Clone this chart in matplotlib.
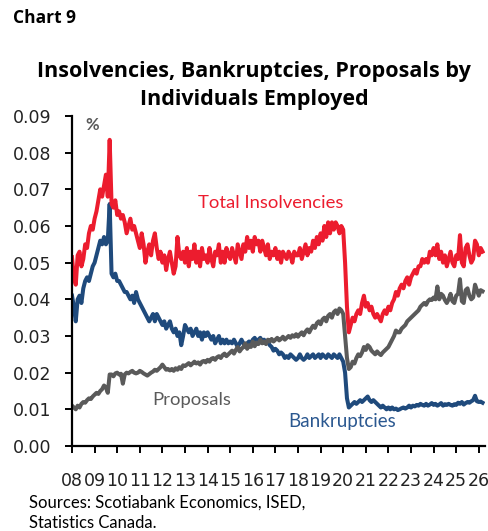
import numpy as np
import matplotlib
matplotlib.use("Agg")
import matplotlib.pyplot as plt

# Monthly ratios to individuals employed, starting January 2008
total_insolvencies = [
    .0515, .046, .044, .052, .053, .049, .051, .055, .054, .058, .060, .059,
    .062, .064, .067, .070, .068, .071, .074, .068, .0835, .066, .065, .067,
    .063, .064, .062, .063, .061, .058, .060, .062, .059, .060, .058, .056,
    .054, .058, .055, .050, .053, .055, .052, .056, .058, .054, .051, .053,
    .050, .052, .048, .051, .053, .050, .047, .049, .057, .052, .051, .053,
    .050, .054, .049, .053, .051, .055, .050, .053, .049, .054, .051, .052,
    .050, .054, .051, .049, .053, .052, .055, .050, .053, .050, .054, .052,
    .051, .054, .052, .050, .055, .053, .051, .055, .053, .057, .054, .056,
    .053, .057, .055, .056, .053, .056, .054, .052, .055, .051, .053, .052,
    .054, .051, .053, .050, .053, .052, .051, .053, .052, .050, .053, .052,
    .052, .054, .051, .053, .055, .052, .054, .053, .056, .054, .057, .055,
    .058, .056, .060, .057, .061, .058, .061, .059, .061, .060, .058, .060,
    .059, .050, .038, .031, .033, .035, .034, .036, .037, .036, .039, .041,
    .038, .039, .037, .038, .036, .035, .036, .035, .034, .036, .037, .036,
    .038, .037, .039, .040, .042, .041, .043, .044, .043, .045, .046, .044,
    .046, .047, .048, .047, .049, .049, .051, .050, .051, .050, .053, .052,
    .054, .052, .055, .051, .053, .050, .052, .049, .051, .053, .050, .049,
    .052, .051, .0575, .050, .049, .054, .055, .052, .050, .051, .056, .055,
    .052, .054, .053,
]

bankruptcies = [
    .041, .038, .034, .040, .041, .039, .043, .045, .046, .045, .047, .049,
    .050, .052, .054, .056, .055, .057, .055, .056, .066, .047, .046, .047,
    .045, .045, .044, .043, .042, .042, .041, .040, .041, .039, .042, .040,
    .039, .038, .037, .036, .035, .034, .035, .036, .034, .036, .035, .034,
    .033, .034, .032, .033, .034, .032, .031, .032, .030, .031, .0275, .030,
    .033, .032, .031, .032, .030, .031, .032, .030, .031, .029, .031, .030,
    .031, .030, .029, .030, .028, .029, .030, .028, .029, .028, .029, .028,
    .0285, .028, .029, .028, .027, .028, .029, .028, .027, .028, .0285, .028,
    .029, .0295, .0285, .029, .0295, .0285, .029, .028, .0285, .0275, .027, .026,
    .0265, .026, .025, .0255, .025, .024, .0245, .024, .025, .0245, .024, .0235,
    .024, .025, .024, .0235, .024, .025, .024, .0245, .025, .024, .0245, .025,
    .024, .025, .0245, .024, .025, .0245, .024, .025, .0245, .024, .025, .024,
    .023, .020, .013, .0105, .011, .0115, .012, .0115, .012, .0125, .012, .0125,
    .013, .0135, .0125, .012, .0125, .012, .0115, .011, .0105, .011, .0105, .010,
    .0105, .010, .0105, .010, .0102, .0098, .010, .0103, .0105, .0102, .0105, .011,
    .0105, .011, .0108, .0112, .011, .0115, .0112, .011, .0115, .011, .0113, .0117,
    .0112, .0115, .011, .0113, .0117, .011, .0114, .0112, .0115, .0112, .011, .0114,
    .0112, .0118, .0115, .012, .0113, .0117, .012, .0118, .0122, .0125, .0137, .0122,
    .012, .0121, .0118,
]

proposals = [
    .011, .0105, .010, .011, .0105, .0115, .012, .0118, .0125, .013, .0128, .0135,
    .014, .0145, .0142, .015, .0155, .0165, .016, .0145, .0195, .0195, .019, .0198,
    .020, .0195, .0197, .017, .0195, .020, .0198, .0202, .0205, .020, .0198, .020,
    .0205, .0202, .0198, .0195, .0192, .0196, .020, .0203, .0208, .0205, .021, .0215,
    .0222, .0215, .0208, .021, .0206, .021, .0205, .0212, .0208, .0215, .021, .022,
    .0218, .0222, .0226, .022, .0225, .023, .0225, .0228, .0222, .023, .0232, .0228,
    .0235, .023, .0238, .024, .0235, .0242, .0245, .024, .0248, .0252, .0245, .025,
    .0255, .026, .0252, .0262, .027, .0258, .0265, .027, .028, .0265, .0275, .027,
    .0285, .0272, .0282, .0278, .029, .028, .0285, .0278, .029, .0285, .0292, .0285,
    .029, .0295, .0288, .0292, .0298, .029, .0295, .030, .0295, .0302, .0298, .0305,
    .0298, .0305, .031, .0302, .0312, .0318, .031, .032, .0328, .0322, .0335, .034,
    .0332, .0345, .035, .034, .0355, .036, .035, .0365, .037, .036, .0375, .037,
    .036, .030, .024, .021, .0215, .023, .0225, .024, .025, .0245, .0255, .027,
    .0262, .0275, .027, .026, .0255, .025, .0258, .0252, .0248, .0255, .026, .0265,
    .027, .028, .029, .030, .0315, .031, .031, .032, .0325, .033, .034, .0345,
    .035, .0355, .036, .0365, .037, .038, .0385, .039, .0385, .0395, .040, .0398,
    .0405, .040, .0435, .040, .0415, .041, .0398, .039, .040, .0415, .0395, .039,
    .041, .0415, .0455, .0395, .039, .0425, .043, .041, .040, .0405, .044, .0425,
    .041, .0425, .0422,
]

start_year = 2008
tick_years = list(range(2008, 2027))
tick_labels = [f"{y % 100:02d}" for y in tick_years]
y_ticks = [0.00, 0.01, 0.02, 0.03, 0.04, 0.05, 0.06, 0.07, 0.08, 0.09]

RED = "#EC1C2E"
BLUE = "#1F4A7C"
GREY = "#5A5A5A"
TEXT_FONT = "Lato"
HEAD_FONT = "Open Sans"


def month_axis(values):
    return start_year + np.arange(len(values)) / 12.0


fig = plt.figure(figsize=(4.89, 5.31), dpi=100)
ax = fig.add_axes([72 / 489, 1 - 446 / 531, 413 / 489, 330 / 531])

ax.plot(month_axis(bankruptcies), bankruptcies, color=BLUE, lw=2.9,
        solid_joinstyle="round")
ax.plot(month_axis(proposals), proposals, color=GREY, lw=2.9,
        solid_joinstyle="round")
ax.plot(month_axis(total_insolvencies), total_insolvencies, color=RED, lw=2.9,
        solid_joinstyle="round")

ax.set_xlim(2008, 2008 + 413 / 22.6)
ax.set_ylim(0, 0.09)
ax.set_xticks(tick_years)
ax.set_xticklabels(tick_labels)
ax.set_yticks(y_ticks)
ax.set_yticklabels([f"{v:.2f}" for v in y_ticks])

for side in ("top", "right"):
    ax.spines[side].set_visible(False)
for side in ("left", "bottom"):
    ax.spines[side].set_linewidth(1.6)
    ax.spines[side].set_color("black")
ax.tick_params(axis="both", direction="out", length=5, width=1.4,
               labelsize=12.5, colors="black")
ax.tick_params(axis="x", pad=14)
ax.tick_params(axis="y", pad=10)
for lab in ax.get_xticklabels() + ax.get_yticklabels():
    lab.set_fontfamily("DejaVu Sans")
    lab.set_color("#222222")

# Series labels
ax.text(2013.58, 0.0662, "Total Insolvencies", color=RED, fontsize=13.3,
        family=TEXT_FONT, ha="left", va="center")
ax.text(2011.55, 0.0125, "Proposals", color=GREY, fontsize=13.3,
        family=TEXT_FONT, ha="left", va="center")
ax.text(2017.55, 0.0068, "Bankruptcies", color="#2B5890", fontsize=13.5,
        family=TEXT_FONT, ha="left", va="center")
ax.text(2008.6, 0.0875, "%", color=GREY, fontsize=12, fontweight="bold",
        family=TEXT_FONT, ha="left", va="center")

# Headings
fig.text(13 / 489, 1 - 18 / 531, "Chart 9", fontsize=12.5, fontweight="bold",
         family=HEAD_FONT, ha="left", va="center")
fig.text(254 / 489, 1 - 72 / 531, "Insolvencies, Bankruptcies, Proposals by",
         fontsize=15.5, fontweight="bold", family=HEAD_FONT,
         ha="center", va="center")
fig.text(254 / 489, 1 - 100 / 531, "Individuals Employed",
         fontsize=15.5, fontweight="bold", family=HEAD_FONT,
         ha="center", va="center")

# Source note
fig.text(29 / 489, 1 - 503 / 531, "Sources: Scotiabank Economics, ISED,",
         fontsize=12, family=TEXT_FONT, ha="left", va="center")
fig.text(29 / 489, 1 - 523 / 531, "Statistics Canada.",
         fontsize=12, family=TEXT_FONT, ha="left", va="center")

fig.savefig("out.png", dpi=100)
